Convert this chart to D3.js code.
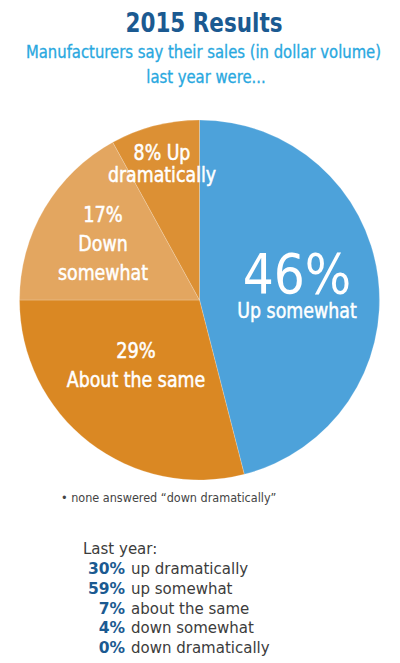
<!DOCTYPE html>
<html>
<head>
<meta charset="utf-8">
<script src="https://cdn.jsdelivr.net/npm/d3@7"></script>
<style>
  body { margin: 0; background: #fff; }
  svg { display: block; font-family: "DejaVu Sans", sans-serif; font-stretch: condensed; }
</style>
</head>
<body>
<script>
'use strict';

// pie slices, clockwise from 12 o'clock
const sliceNames = ["Up somewhat", "About the same", "Down somewhat", "Up dramatically"];
const sliceValues = [46, 29, 17, 8];
const sliceColors = ["#4da2da", "#da8823", "#e3a660", "#dc9034"];

// "last year" list under the chart
const lastYearLabels = ["up dramatically", "up somewhat", "about the same", "down somewhat", "down dramatically"];
const lastYearValues = [30, 59, 7, 4, 0];

const width = 400, height = 663;
const cx = 199.5, cy = 300, radius = 180;

const svg = d3.select('body')
  .append('svg')
  .attr('width', width)
  .attr('height', height);

// squeezed text helper: the original uses a narrow face
function squeezed(parent, x, y, sx, txt) {
  return parent.append('text')
    .attr('transform', `translate(${x},${y}) scale(${sx},1)`)
    .attr('text-anchor', 'middle')
    .text(txt);
}

// title + subtitle
squeezed(svg, 204, 32, 0.92, '2015 Results')
  .style('font-size', '26px')
  .style('font-weight', 'bold')
  .attr('fill', '#1b5a91');

squeezed(svg, 203.5, 58, 0.97, 'Manufacturers say their sales (in dollar volume)')
  .style('font-size', '17px')
  .attr('fill', '#29a8e0')
  .attr('stroke', '#29a8e0')
  .attr('stroke-width', 0.3);

squeezed(svg, 206, 83, 0.97, 'last year were...')
  .style('font-size', '17px')
  .attr('fill', '#29a8e0')
  .attr('stroke', '#29a8e0')
  .attr('stroke-width', 0.3);

// pie
const pie = d3.pie().sort(null).value(d => d.value);
const arc = d3.arc().innerRadius(0).outerRadius(radius);
const slices = pie(sliceNames.map((n, i) => ({ name: n, value: sliceValues[i], color: sliceColors[i] })));

const g = svg.append('g').attr('transform', `translate(${cx},${cy})`);
g.selectAll('path')
  .data(slices)
  .enter()
  .append('path')
    .attr('d', arc)
    .attr('fill', d => d.data.color)
    .attr('stroke', 'rgba(255,255,255,0.2)')
    .attr('stroke-width', 1);

// slice labels (lines placed by hand, as in the original)
const labelSpecs = [
  { x: 297, lines: [{ t: sliceValues[0] + '%', y: 293, size: 56, sx: 0.97 }, { t: sliceNames[0], y: 318, size: 22, sx: 0.88 }] },
  { x: 136, lines: [{ t: sliceValues[1] + '%', y: 358, size: 22, sx: 0.9 }, { t: sliceNames[1], y: 387, size: 22, sx: 0.88 }] },
  { x: 103, lines: [{ t: sliceValues[2] + '%', y: 222, size: 22, sx: 0.9 }, { t: 'Down', y: 251, size: 22, sx: 0.88 }, { t: 'somewhat', y: 280, size: 22, sx: 0.88 }] },
  { x: 162, lines: [{ t: sliceValues[3] + '% Up', y: 160, size: 21, sx: 0.92 }, { t: 'dramatically', y: 182, size: 21, sx: 0.92 }] }
];

labelSpecs.forEach(function(spec) {
  spec.lines.forEach(function(l) {
    squeezed(g, spec.x - cx, l.y - cy, l.sx, l.t)
      .style('font-size', l.size + 'px')
      .attr('fill', '#fff')
      .attr('stroke', '#fff')
      .attr('stroke-width', l.size > 30 ? 0 : 0.5);
  });
});

// footnote
svg.append('text')
  .attr('x', 61).attr('y', 502)
  .style('font-size', '12.5px')
  .attr('fill', '#444')
  .text('\u2022 none answered \u201cdown dramatically\u201d');

// last year list
svg.append('text')
  .attr('x', 83).attr('y', 554)
  .style('font-size', '15px')
  .style('font-stretch', 'normal')
  .attr('fill', '#3c3c3c')
  .text('Last year:');

const rows = svg.selectAll('.row')
  .data(lastYearValues)
  .enter()
  .append('g')
    .attr('class', 'row')
    .attr('transform', (d, i) => `translate(0, ${574 + i * 19.8})`);

rows.append('text')
  .attr('x', 125)
  .attr('text-anchor', 'end')
  .style('font-size', '15.5px')
  .style('font-weight', 'bold')
  .style('font-stretch', 'normal')
  .attr('fill', '#1b5a91')
  .text(d => d + '%');

rows.append('text')
  .attr('x', 131)
  .style('font-size', '15px')
  .style('font-stretch', 'normal')
  .attr('fill', '#3c3c3c')
  .text((d, i) => lastYearLabels[i]);
</script>
</body>
</html>
